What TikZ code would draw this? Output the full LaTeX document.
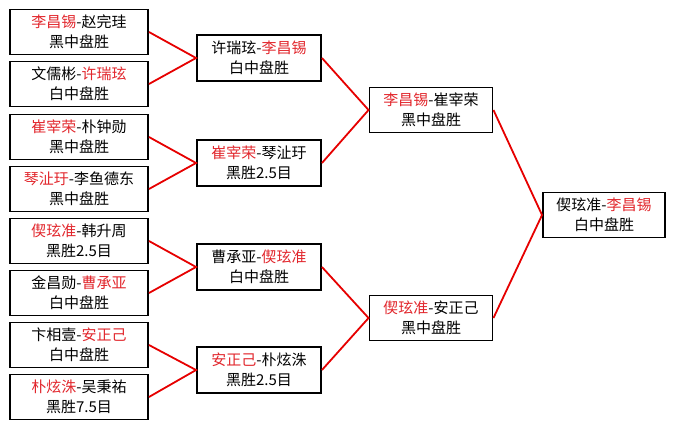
\documentclass[tikz,border=0pt]{standalone}
\usepackage{fontspec}
\setmainfont{Noto Sans CJK SC}
\definecolor{winred}{RGB}{226,38,44}
\definecolor{linkred}{RGB}{230,0,0}
\newcommand{\rd}[1]{\textcolor{winred}{#1}}

\begin{document}
\begin{tikzpicture}[
    x=1pt, y=-1pt,
    game/.style={draw, line width=1.9pt, fill=white, align=center, inner sep=0pt,
                 font=\fontsize{15}{20}\selectfont},
    first/.style={game, minimum width=138pt, minimum height=45pt},
    second/.style={game, minimum width=124pt, minimum height=46pt},
    third/.style={game, minimum width=123pt, minimum height=45pt},
    link/.style={linkred, line width=1.8pt}
]
    \useasboundingbox (0,0) rectangle (675,429);

    % erste Runde
    \node[first] (g1) at (79,32)  {\rd{李昌锡}-赵完珪\\黑中盘胜};
    \node[first] (g2) at (79,84)  {文儒彬-\rd{许瑞玹}\\白中盘胜};
    \node[first] (g3) at (79,137) {\rd{崔宰荣}-朴钟勋\\黑中盘胜};
    \node[first] (g4) at (79,189) {\rd{琴沚玗}-李鱼德东\\黑中盘胜};
    \node[first] (g5) at (79,241) {\rd{偰玹准}-韩升周\\黑胜2.5目};
    \node[first] (g6) at (79,293) {金昌勋-\rd{曹承亚}\\白中盘胜};
    \node[first] (g7) at (79,345) {卞相壹-\rd{安正己}\\白中盘胜};
    \node[first] (g8) at (79,397) {\rd{朴炫洙}-吴秉祐\\黑胜7.5目};

    % zweite Runde
    \node[second] (s1) at (259,58)  {许瑞玹-\rd{李昌锡}\\白中盘胜};
    \node[second] (s2) at (259,163) {\rd{崔宰荣}-琴沚玗\\黑胜2.5目};
    \node[second] (s3) at (259,267) {曹承亚-\rd{偰玹准}\\白中盘胜};
    \node[second] (s4) at (259,370) {\rd{安正己}-朴炫洙\\黑胜2.5目};

    % Halbfinale
    \node[third] (h1) at (431,110) {\rd{李昌锡}-崔宰荣\\黑中盘胜};
    \node[third] (h2) at (431,318) {\rd{偰玹准}-安正己\\黑中盘胜};

    % Finale
    \node[third, minimum width=122pt] (fin) at (604,215) {偰玹准-\rd{李昌锡}\\白中盘胜};

    % Verbindungen
    \draw[link] (g1.east) -- (s1.west) -- (g2.east);
    \draw[link] (g3.east) -- (s2.west) -- (g4.east);
    \draw[link] (g5.east) -- (s3.west) -- (g6.east);
    \draw[link] (g7.east) -- (s4.west) -- (g8.east);
    \draw[link] (s1.east) -- (h1.west) -- (s2.east);
    \draw[link] (s3.east) -- (h2.west) -- (s4.east);
    \draw[link] (h1.east) -- (fin.west) -- (h2.east);

\end{tikzpicture}
\end{document}
